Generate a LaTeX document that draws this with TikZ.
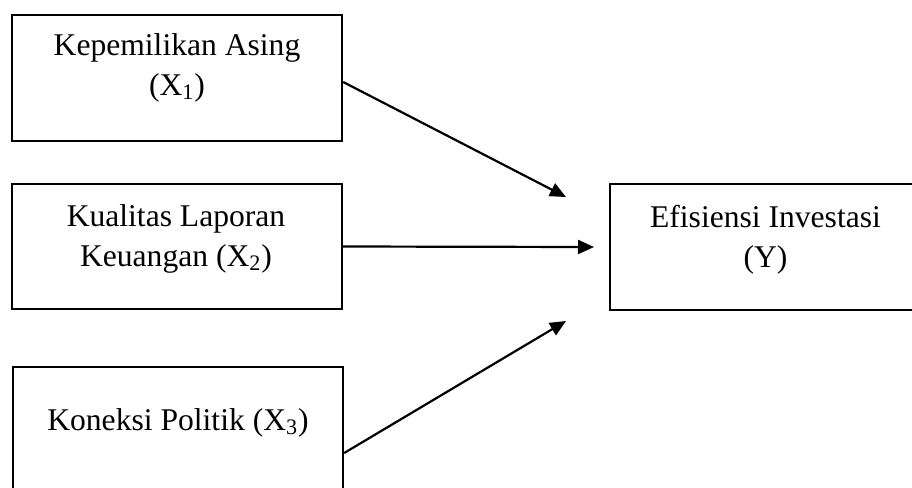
\documentclass[tikz,border=0pt]{standalone}
\usepackage{fontspec}
\setmainfont{Liberation Serif}
\usetikzlibrary{arrows.meta}
\begin{document}
\begin{tikzpicture}[x=0.5pt,y=-0.5pt,
  box/.style={draw=black,line width=1.2pt,inner sep=0pt,minimum width=#1},
  lbl/.style={font=\fontsize{15.8}{20}\selectfont,align=center,inner sep=0pt,anchor=base},
  conn/.style={line width=1.1pt,-{Triangle[length=8pt,width=7pt]}}]
\useasboundingbox (0,0) rectangle (912,488);
\clip (0,0) rectangle (912,488);
% boxes
\node[box=165pt,minimum height=63pt] (b1) at (177,78) {};
\node[box=165pt,minimum height=62.5pt] (b2) at (177,246.5) {};
\node[box=165pt,minimum height=86pt] (b3) at (178,453) {};
\node[box=155.5pt,minimum height=63pt] (by) at (765.5,247) {};
% labels (base = baseline of last line)
\node[lbl] (t1) at (177,95) {Kepemilikan Asing\\(X\textsubscript{1})};
\node[lbl] (t2) at (176,266) {Kualitas Laporan\\Keuangan (X\textsubscript{2})};
\node[lbl] (t3) at (178,430) {Koneksi Politik (X\textsubscript{3})};
\node[lbl] (ty) at (765.5,267) {Efisiensi Investasi\\(Y)};
% arrow tips (free ends)
\coordinate (e1) at (566,197);
\coordinate (e2) at (594,247);
\coordinate (e3) at (566,321);
\draw[conn] ([yshift=-2pt]b1.east) -- (e1);
\draw[conn] (b2.east) -- (e2);
\draw[conn] (b3.east) -- (e3);
\end{tikzpicture}
\end{document}
